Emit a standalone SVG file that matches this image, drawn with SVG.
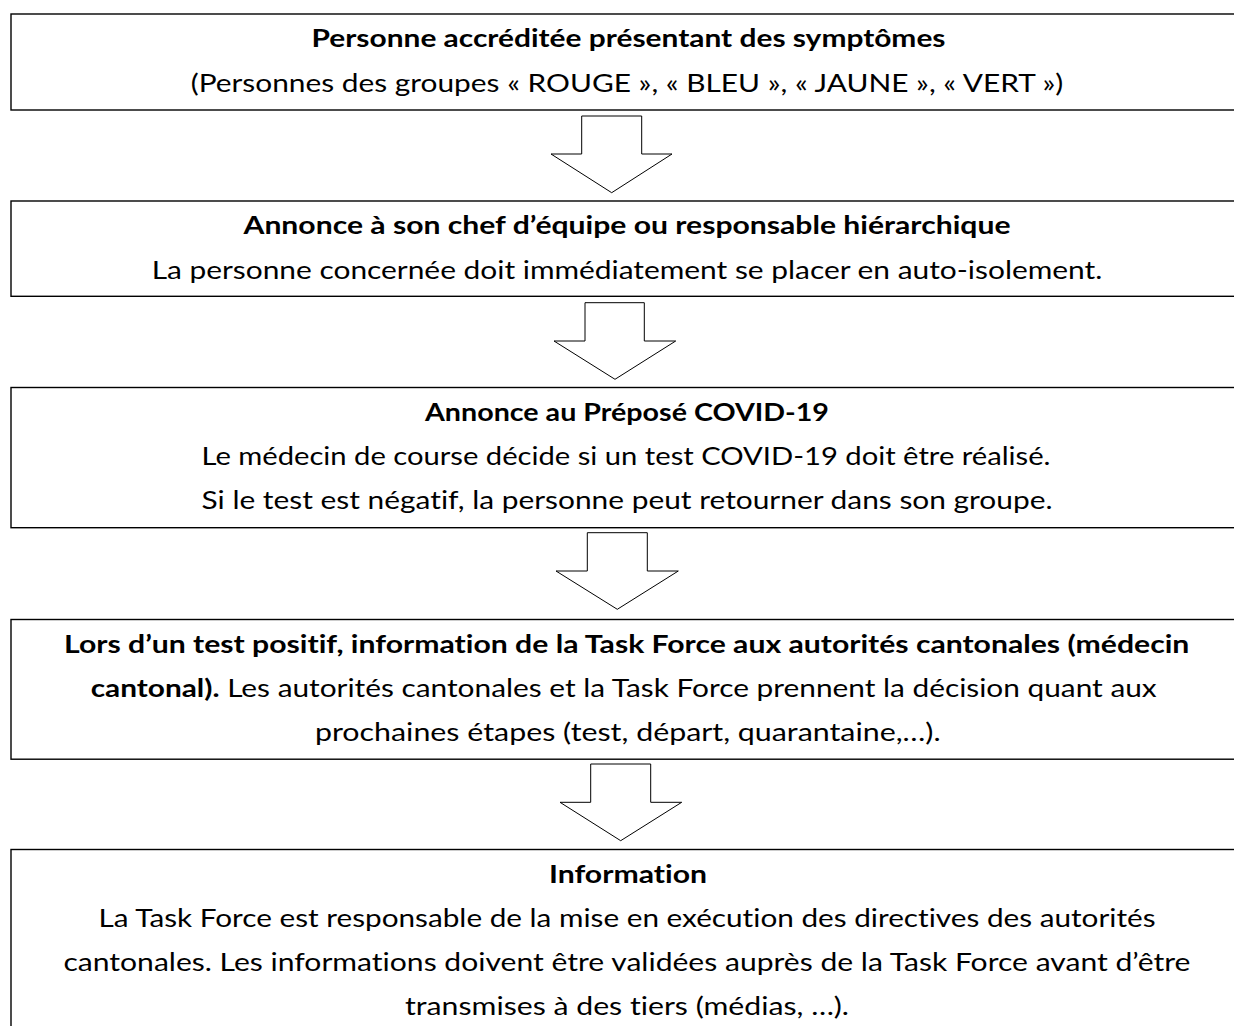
<svg xmlns="http://www.w3.org/2000/svg" width="1234" height="1026" viewBox="0 0 1234 1026">
<style>
.box{fill:#fff;stroke:#000;stroke-width:1.4}
.arr{fill:#fff;stroke:#000;stroke-width:1}
text{font-family:Lato,"Open Sans","Liberation Sans",sans-serif;font-size:25.5px;fill:#000;font-variant-ligatures:none;font-feature-settings:"liga" 0,"clig" 0}
.c{text-anchor:middle}
.b{font-weight:bold}
</style>
<rect width="1234" height="1026" fill="#fff"/>
<g id="connectors">
<polygon class="arr" points="581.7,116 641.7,116 641.7,154 672,154 611.7,192.7 551,154 581.7,154"/>
<polygon class="arr" points="585,302.7 644.3,302.7 644.3,341 675.7,341 615,379.3 554,341 585,341"/>
<polygon class="arr" points="587.3,532.7 647.3,532.7 647.3,571 678.3,571 617.3,609.3 556,571 587.3,571"/>
<polygon class="arr" points="590.7,764 650.7,764 650.7,802.3 681.7,802.3 620.7,840.7 560,802.3 590.7,802.3"/>
</g>
<g id="node1">
<rect class="box" x="11" y="14" width="1232" height="96"/>
<text class="c b" x="628.5" y="47.2" textLength="634" lengthAdjust="spacingAndGlyphs">Personne accréditée présentant des symptômes</text>
<text class="c" x="627" y="91.5" textLength="872.6" lengthAdjust="spacingAndGlyphs">(Personnes des groupes « ROUGE », « BLEU », « JAUNE », « VERT »)</text>
</g>
<g id="node2">
<rect class="box" x="11" y="201" width="1232" height="95.3"/>
<text class="c b" x="627" y="234.2" textLength="767" lengthAdjust="spacingAndGlyphs">Annonce à son chef d’équipe ou responsable hiérarchique</text>
<text class="c" x="627" y="278.5" textLength="950.6" lengthAdjust="spacingAndGlyphs">La personne concernée doit immédiatement se placer en auto-isolement.</text>
</g>
<g id="node3">
<rect class="box" x="11" y="387.5" width="1232" height="140.2"/>
<text class="c b" x="627" y="420.7" textLength="404" lengthAdjust="spacingAndGlyphs">Annonce au Préposé COVID-19</text>
<text class="c" x="626" y="465" textLength="849" lengthAdjust="spacingAndGlyphs">Le médecin de course décide si un test COVID-19 doit être réalisé.</text>
<text class="c" x="627" y="508.5" textLength="851" lengthAdjust="spacingAndGlyphs">Si le test est négatif, la personne peut retourner dans son groupe.</text>
</g>
<g id="node4">
<rect class="box" x="11" y="619.5" width="1232" height="139.7"/>
<text class="c b" x="626.7" y="652.7" textLength="1125.3" lengthAdjust="spacingAndGlyphs">Lors d’un test positif, information de la Task Force aux autorités cantonales (médecin</text>
<text x="90.7" y="697" textLength="1066" lengthAdjust="spacingAndGlyphs"><tspan class="b">cantonal).</tspan> Les autorités cantonales et la Task Force prennent la décision quant aux</text>
<text class="c" x="627.8" y="740.5" textLength="625.7" lengthAdjust="spacingAndGlyphs">prochaines étapes (test, départ, quarantaine,…).</text>
</g>
<g id="node5">
<rect class="box" x="11" y="849.5" width="1232" height="200"/>
<text class="c b" x="628" y="882.7" textLength="158" lengthAdjust="spacingAndGlyphs">Information</text>
<text class="c" x="627" y="927" textLength="1057" lengthAdjust="spacingAndGlyphs">La Task Force est responsable de la mise en exécution des directives des autorités</text>
<text class="c" x="627" y="970.5" textLength="1127" lengthAdjust="spacingAndGlyphs">cantonales. Les informations doivent être validées auprès de la Task Force avant d’être</text>
<text class="c" x="627" y="1014.5" textLength="444" lengthAdjust="spacingAndGlyphs">transmises à des tiers (médias, …).</text>
</g>
</svg>
